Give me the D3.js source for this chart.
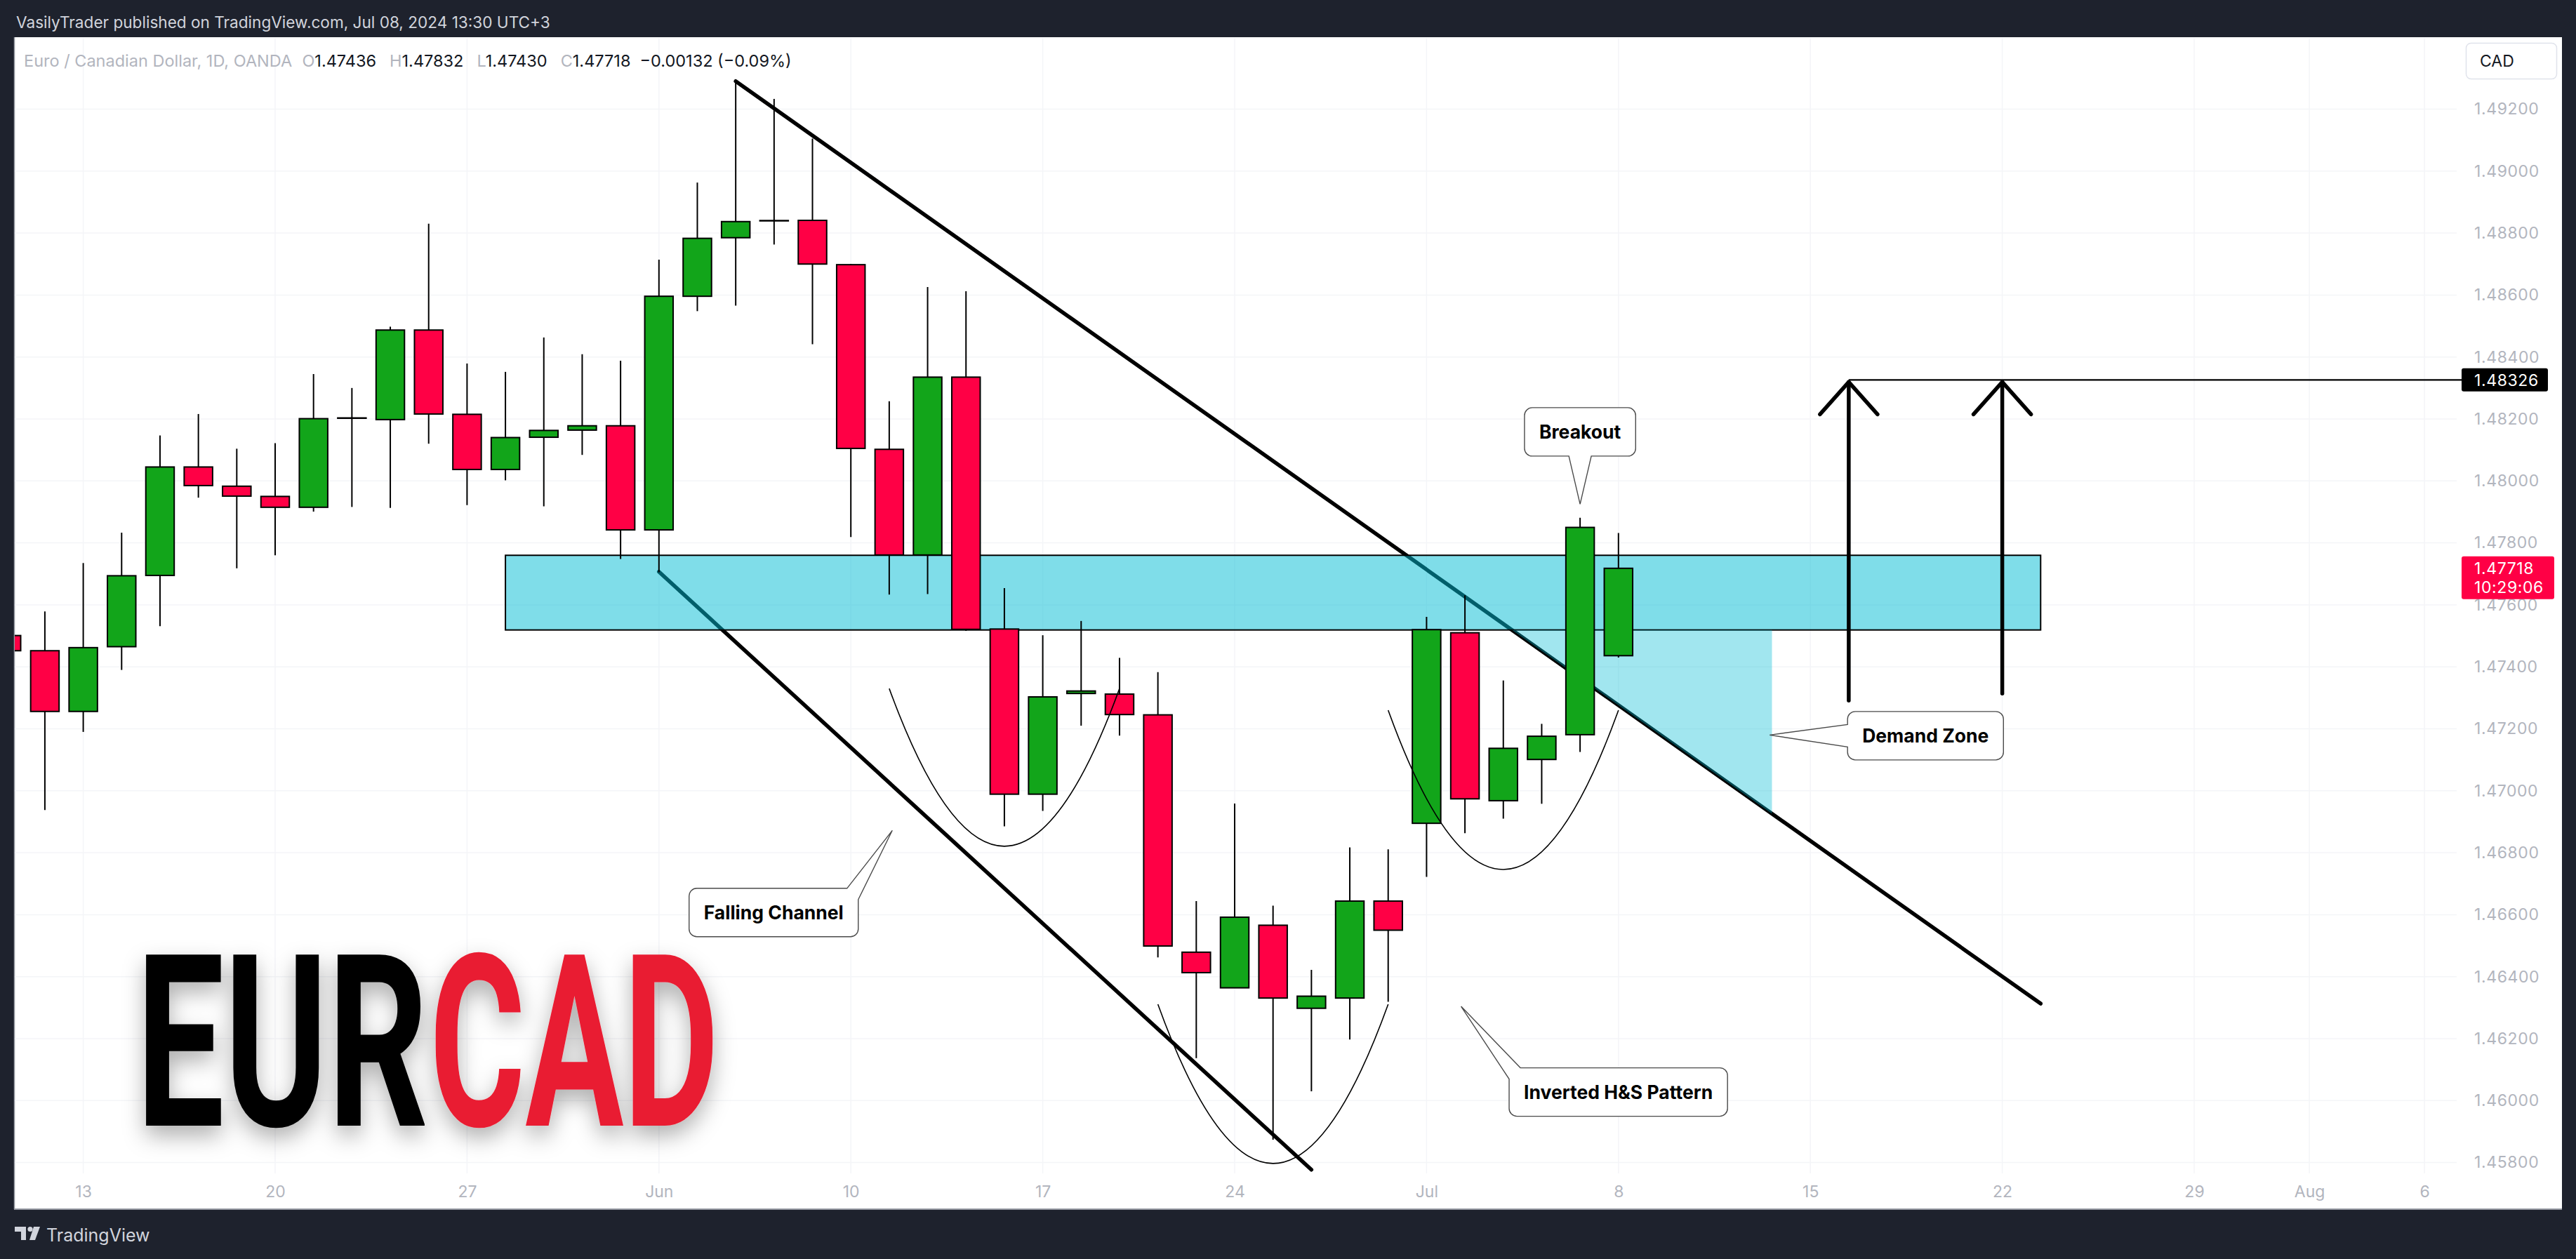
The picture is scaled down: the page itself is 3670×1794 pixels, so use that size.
<!DOCTYPE html>
<html><head><meta charset="utf-8">
<script src="https://cdn.jsdelivr.net/npm/d3@7"></script>
<style>html,body{margin:0;padding:0;background:#1e222d;overflow:hidden}</style>
</head><body>
<svg id="c" width="3670" height="1794" xmlns="http://www.w3.org/2000/svg"></svg>
<script>
// ---------------- DATA ----------------
const dates = ["2024-05-09","2024-05-10","2024-05-13","2024-05-14","2024-05-15","2024-05-16","2024-05-17",
"2024-05-20","2024-05-21","2024-05-22","2024-05-23","2024-05-24","2024-05-27","2024-05-28","2024-05-29","2024-05-30","2024-05-31",
"2024-06-03","2024-06-04","2024-06-05","2024-06-06","2024-06-07","2024-06-10","2024-06-11","2024-06-12","2024-06-13","2024-06-14",
"2024-06-17","2024-06-18","2024-06-19","2024-06-20","2024-06-21","2024-06-24","2024-06-25","2024-06-26","2024-06-27","2024-06-28",
"2024-07-01","2024-07-02","2024-07-03","2024-07-04","2024-07-05","2024-07-08"];
const opens  = [1.47501,1.47452,1.47256,1.47465,1.47695,1.48045,1.47983,1.47950,1.47915,1.48203,1.48198,1.48487,1.48215,1.48037,1.48141,1.48164,1.48178,1.47842,1.48596,1.48785,1.48840,1.48841,1.48698,1.48102,1.47761,1.48335,1.47522,1.46989,1.47314,1.47312,1.47245,1.46479,1.46364,1.46566,1.46298,1.46331,1.46644,1.46895,1.47510,1.46968,1.47101,1.47181,1.47436];
const highs  = [1.47565,1.47579,1.47735,1.47833,1.48147,1.48216,1.48104,1.48122,1.48345,1.48300,1.48498,1.48830,1.48379,1.48352,1.48463,1.48409,1.48388,1.48714,1.48963,1.49290,1.49233,1.49105,1.48700,1.48257,1.48626,1.48612,1.47654,1.47502,1.47548,1.47429,1.47383,1.46644,1.46959,1.46629,1.46422,1.46817,1.46811,1.47561,1.47631,1.47356,1.47216,1.47881,1.47832];
const lows   = [1.47390,1.46938,1.47190,1.47390,1.47531,1.47946,1.47718,1.47760,1.47901,1.47916,1.47913,1.48120,1.47922,1.48002,1.47918,1.48084,1.47748,1.47705,1.48548,1.48566,1.48763,1.48441,1.47819,1.47633,1.47635,1.47516,1.46885,1.46935,1.47210,1.47178,1.46462,1.46137,1.46364,1.45874,1.46030,1.46197,1.46319,1.46722,1.46863,1.46910,1.46958,1.47125,1.47430];
const closes = [1.47452,1.47256,1.47462,1.47694,1.48045,1.47985,1.47951,1.47915,1.48201,1.48203,1.48487,1.48216,1.48037,1.48140,1.48163,1.48178,1.47842,1.48596,1.48783,1.48837,1.48840,1.48700,1.48105,1.47761,1.48335,1.47521,1.46989,1.47303,1.47322,1.47246,1.46499,1.46413,1.46592,1.46331,1.46337,1.46644,1.46550,1.47520,1.46974,1.47137,1.47176,1.47850,1.47718];
const firstBarIndex = -2; // bar index of dates[0]; 0 = 2024-05-13

const priceTicks = [1.458,1.460,1.462,1.464,1.466,1.468,1.470,1.472,1.474,1.476,1.478,1.480,1.482,1.484,1.486,1.488,1.490,1.492];
const dateTickIdx = [0,5,10,15,20,25,30,35,40,45,50,55,58,61];
const dateTickLabels = ["13","20","27","Jun","10","17","24","Jul","8","15","22","29","Aug","6"];

// drawings (bar index, price)
const channelUpper = [[17,1.49290],[51,1.46313]];
const channelLower = [[15,1.47707],[32,1.45777]];
const zoneBox = [[11,1.47760],[51,1.47519]];
const demandRightIdx = 44;
const targetLevel = 1.48326;
const arrowIdx = [46,50];
const arrowBase = [1.47291,1.47314];
const curveStart = [21,28,34];
const curveEnd = [27,34,40];
const curveEndPrice = [1.47330,1.46311,1.47260];
const curveLowPrice = [1.46821,1.45797,1.46746];
const calloutText = ["Breakout","Falling Channel","Inverted H&S Pattern","Demand Zone"];
const calloutIdx = [39,21.08,35.9,43.94];
const calloutPrice = [1.47925,1.46872,1.46304,1.47180];

const lastPrice = 1.47718, countdown = "10:29:06";
const headerTop = "VasilyTrader published on TradingView.com, Jul 08, 2024 13:30 UTC+3";
const symbolInfo = "Euro / Canadian Dollar, 1D, OANDA";
const ohlcLabels = ["O","H","L","C"];
const ohlcValues = ["1.47436","1.47832","1.47430","1.47718"];
const changeText = "\u22120.00132 (\u22120.09%)";
const titleParts = ["EUR","CAD"];

// ---------------- STYLE / LAYOUT ----------------
const W=3670,H=1794;
const UP="#12a51a", DOWN="#ff0045", ZONE="rgb(0,188,212)";
const svg = d3.select("#c");
const x = d3.scaleLinear().domain([0,40]).range([118.6,2305.8]);
const y = d3.scaleLinear().domain([1.458,1.492]).range([1656.6,155.5]);
const FONT = "Inter, 'Noto Sans', Roboto, sans-serif";

const defs = svg.append("defs");
defs.append("clipPath").attr("id","plot").append("rect").attr("x",21).attr("y",54).attr("width",3480).attr("height",1620);
const f = defs.append("filter").attr("id","shadow").attr("x","-20%").attr("y","-30%").attr("width","140%").attr("height","170%");
f.append("feDropShadow").attr("dx",0).attr("dy",14).attr("stdDeviation",16).attr("flood-color","#000").attr("flood-opacity",0.32);

// frame
svg.append("rect").attr("width",W).attr("height",H).attr("fill","#1e222d");
svg.append("rect").attr("x",20).attr("y",53).attr("width",3630).attr("height",1670).attr("fill","#ffffff");
svg.append("line").attr("x1",20).attr("x2",3650).attr("y1",1723).attr("y2",1723).attr("stroke","#9598a1").attr("stroke-width",2);
svg.append("line").attr("x1",20.5).attr("x2",20.5).attr("y1",53).attr("y2",1723).attr("stroke","#9598a1").attr("stroke-width",1.5);

// faint grid
const grid = svg.append("g").attr("clip-path","url(#plot)");
grid.selectAll("line.h").data(priceTicks).join("line").attr("x1",20).attr("x2",3500)
  .attr("y1",d=>y(d)).attr("y2",d=>y(d)).attr("stroke","#f4f5f8").attr("stroke-width",1.5);
grid.selectAll("line.v").data(dateTickIdx).join("line").attr("y1",54).attr("y2",1672)
  .attr("x1",d=>x(d)).attr("x2",d=>x(d)).attr("stroke","#f4f5f8").attr("stroke-width",1.5);

const plot = svg.append("g").attr("clip-path","url(#plot)");

// channel lines
const lineGen = d3.line().x(d=>x(d[0])).y(d=>y(d[1]));
[channelUpper, channelLower].forEach(l=>{
  plot.append("path").attr("d",lineGen(l)).attr("fill","none").attr("stroke","#000")
    .attr("stroke-width",5.5).attr("stroke-linecap","round");
});

// zone box
plot.append("rect").attr("x",x(zoneBox[0][0])).attr("y",y(zoneBox[0][1]))
  .attr("width",x(zoneBox[1][0])-x(zoneBox[0][0])).attr("height",y(zoneBox[1][1])-y(zoneBox[0][1]))
  .attr("fill",ZONE).attr("fill-opacity",0.5).attr("stroke","#000").attr("stroke-width",2);

// demand triangle (bounded by zone bottom, vertical at demandRightIdx, and upper channel line)
(function(){
  const [a,b]=channelUpper;
  const priceAt = i => a[1]+(b[1]-a[1])*(i-a[0])/(b[0]-a[0]);
  const idxAt = p => a[0]+(p-a[1])*(b[0]-a[0])/(b[1]-a[1]);
  const pTop = zoneBox[1][1];
  const pts = [[idxAt(pTop),pTop],[demandRightIdx,pTop],[demandRightIdx,priceAt(demandRightIdx)]];
  plot.append("path").attr("d",d3.line().x(d=>x(d[0])).y(d=>y(d[1]))(pts)+"Z")
    .attr("fill",ZONE).attr("fill-opacity",0.37);
})();

// candles
const candles = plot.append("g");
const bw = 40.5;
dates.forEach((dt,k)=>{
  const i = k+firstBarIndex, xc = x(i);
  const o=opens[k], c=closes[k], h=highs[k], l=lows[k];
  candles.append("line").attr("x1",xc).attr("x2",xc).attr("y1",y(h)).attr("y2",y(l))
    .attr("stroke","#000").attr("stroke-width",2);
  const top=y(Math.max(o,c)), bot=y(Math.min(o,c));
  if (bot-top < 1) {
    candles.append("line").attr("x1",xc-bw/2-1).attr("x2",xc+bw/2+1).attr("y1",y(o)).attr("y2",y(o))
      .attr("stroke","#000").attr("stroke-width",2.5);
  } else {
    candles.append("rect").attr("x",xc-bw/2).attr("y",top).attr("width",bw).attr("height",bot-top)
      .attr("fill", c>o?UP:DOWN).attr("stroke","#000").attr("stroke-width",2);
  }
});

// H&S curves (quadratic, symmetric)
curveStart.forEach((s,j)=>{
  const e=curveEnd[j], m=(s+e)/2;
  const ctrlP = curveEndPrice[j] + 2*(curveLowPrice[j]-curveEndPrice[j]);
  plot.append("path")
    .attr("d",`M${x(s)},${y(curveEndPrice[j])} Q${x(m)},${y(ctrlP)} ${x(e)},${y(curveEndPrice[j])}`)
    .attr("fill","none").attr("stroke","#000").attr("stroke-width",1.6);
});

// target line + arrows
svg.append("line").attr("x1",x(arrowIdx[0])).attr("x2",3508).attr("y1",y(targetLevel)).attr("y2",y(targetLevel))
  .attr("stroke","#000").attr("stroke-width",2.2);
arrowIdx.forEach((ai,j)=>{
  const ax=x(ai), ty=y(targetLevel)+3;
  plot.append("line").attr("x1",ax).attr("x2",ax).attr("y1",ty).attr("y2",y(arrowBase[j]))
    .attr("stroke","#000").attr("stroke-width",5.5).attr("stroke-linecap","round");
  plot.append("path").attr("d",`M${ax-41},${ty+46} L${ax},${ty} L${ax+41},${ty+46}`)
    .attr("fill","none").attr("stroke","#000").attr("stroke-width",5.5).attr("stroke-linecap","round").attr("stroke-linejoin","round");
});

// callouts
const calloutLayout = [
  {dx:0, dy:-103, side:"bottom"},
  {dx:-169, dy:117, side:"topright"},
  {dx:224, dy:122, side:"topleft"},
  {dx:222, dy:1, side:"left"}
];
calloutText.forEach((t,j)=>{
  const L=calloutLayout[j];
  const tx=x(calloutIdx[j]), ty=y(calloutPrice[j]);
  const cx=tx+L.dx, cy=ty+L.dy;
  const g=svg.append("g");
  const txt=g.append("text").attr("x",cx).attr("y",cy).attr("dy","0.36em").attr("text-anchor","middle")
    .attr("font-family",FONT).attr("font-weight",700).attr("font-size",26.5).attr("fill","#000").text(t);
  const tw=txt.node().getComputedTextLength();
  const w=tw+42, h=69, x0=cx-w/2, x1=cx+w/2, y0=cy-h/2, y1=cy+h/2, r=11, k=16;
  let p;
  if (L.side==="bottom") {
    p=`M${x0+r},${y0} H${x1-r} A${r},${r} 0 0 1 ${x1},${y0+r} V${y1-r} A${r},${r} 0 0 1 ${x1-r},${y1} H${tx+k} L${tx},${ty} L${tx-k},${y1} H${x0+r} A${r},${r} 0 0 1 ${x0},${y1-r} V${y0+r} A${r},${r} 0 0 1 ${x0+r},${y0} Z`;
  } else if (L.side==="left") {
    p=`M${x0+r},${y0} H${x1-r} A${r},${r} 0 0 1 ${x1},${y0+r} V${y1-r} A${r},${r} 0 0 1 ${x1-r},${y1} H${x0+r} A${r},${r} 0 0 1 ${x0},${y1-r} V${cy+k} L${tx},${ty} L${x0},${cy-k} V${y0+r} A${r},${r} 0 0 1 ${x0+r},${y0} Z`;
  } else if (L.side==="topright") {
    p=`M${x0+r},${y0} H${x1-k} L${tx},${ty} L${x1},${y0+k} V${y1-r} A${r},${r} 0 0 1 ${x1-r},${y1} H${x0+r} A${r},${r} 0 0 1 ${x0},${y1-r} V${y0+r} A${r},${r} 0 0 1 ${x0+r},${y0} Z`;
  } else {
    p=`M${x0+k},${y0} H${x1-r} A${r},${r} 0 0 1 ${x1},${y0+r} V${y1-r} A${r},${r} 0 0 1 ${x1-r},${y1} H${x0+r} A${r},${r} 0 0 1 ${x0},${y1-r} V${y0+k} L${tx},${ty} Z`;
  }
  g.insert("path","text").attr("d",p).attr("fill","#fff").attr("stroke","#4a4a4a").attr("stroke-width",1.4);
});

// EURCAD big title (two separate texts, condensed with a horizontal scale)
const titleG = svg.append("g").attr("filter","url(#shadow)");
const titleX = [194, 612], titleLen = [416, 412], titleFill = ["#000","#e91c30"];
titleParts.forEach((t,j)=>{
  const tt = titleG.append("text").attr("x",0).attr("y",0).attr("font-family","Roboto, 'Liberation Sans', sans-serif")
    .attr("font-weight",700).attr("font-size",343).attr("fill",titleFill[j]).text(t);
  const nat = tt.node().getComputedTextLength();
  tt.attr("transform",`translate(${titleX[j]},1604) scale(${titleLen[j]/nat},1)`);
});

// price axis
const yAxis = d3.axisRight(y).tickValues(priceTicks).tickFormat(d3.format(".5f")).tickSize(0).tickPadding(0);
const ya = svg.append("g").attr("transform","translate(3525,0)").call(yAxis);
ya.select(".domain").remove();
ya.selectAll("text").attr("font-family",FONT).attr("font-size",23).attr("fill","#b2b5be").attr("letter-spacing","0.6px");

// date axis
const xAxis = d3.axisBottom(x).tickValues(dateTickIdx).tickFormat((d,j)=>dateTickLabels[j]).tickSize(0).tickPadding(0);
const xa = svg.append("g").attr("transform","translate(0,1698)").call(xAxis);
xa.select(".domain").remove();
xa.selectAll("text").attr("y",0).attr("dy","0.36em").attr("font-family",FONT).attr("font-size",23).attr("fill","#b2b5be");

// price labels
svg.append("rect").attr("x",3507).attr("y",y(targetLevel)-16.5).attr("width",123).attr("height",33).attr("rx",3).attr("fill","#000");
svg.append("text").attr("x",3525).attr("y",y(targetLevel)).attr("dy","0.36em").attr("font-family",FONT).attr("font-size",23)
  .attr("fill","#fff").attr("letter-spacing","0.6px").text(d3.format(".5f")(targetLevel));
svg.append("rect").attr("x",3507).attr("y",y(lastPrice)-17).attr("width",132).attr("height",61).attr("rx",3).attr("fill",DOWN);
svg.append("text").attr("x",3525).attr("y",y(lastPrice)).attr("dy","0.36em").attr("font-family",FONT).attr("font-size",23)
  .attr("fill","#fff").attr("letter-spacing","0.6px").text(d3.format(".5f")(lastPrice));
svg.append("text").attr("x",3525).attr("y",y(lastPrice)+27).attr("dy","0.36em").attr("font-family",FONT).attr("font-size",23)
  .attr("fill","#fff").attr("letter-spacing","0.6px").text(countdown);

// currency button
svg.append("rect").attr("x",3513.5).attr("y",61.5).attr("width",129).attr("height",51).attr("rx",7)
  .attr("fill","#fff").attr("stroke","#e0e3eb").attr("stroke-width",1.5);
svg.append("text").attr("x",3533).attr("y",87).attr("dy","0.36em").attr("font-family",FONT).attr("font-size",23)
  .attr("fill","#131722").text("CAD");

// header
svg.append("text").attr("x",23).attr("y",32).attr("dy","0.36em").attr("font-family",FONT).attr("font-size",22.6)
  .attr("fill","#d1d4dc").text(headerTop);
const hdr = svg.append("text").attr("x",34).attr("y",87).attr("dy","0.36em").attr("font-family",FONT).attr("font-size",23.5);
hdr.append("tspan").attr("fill","#b2b5be").text(symbolInfo);
ohlcLabels.forEach((l,j)=>{
  hdr.append("tspan").attr("dx", j===0?15:19).attr("fill","#b2b5be").text(l);
  hdr.append("tspan").attr("fill","#131722").text(ohlcValues[j]);
});
hdr.append("tspan").attr("dx",13).attr("fill","#131722").text(changeText);

// TradingView footer logo
const logo = svg.append("g").attr("fill","#d1d4dc");
logo.append("path").attr("d","M21,1748 H37 V1767 H30 V1755 H21 Z");
logo.append("circle").attr("cx",43).attr("cy",1751.5).attr("r",3.6);
logo.append("path").attr("d","M48,1748 H57 L50,1767 H42 Z");
svg.append("text").attr("x",66).attr("y",1760).attr("dy","0.36em").attr("font-family",FONT).attr("font-size",25)
  .attr("fill","#d1d4dc").text("TradingView");
</script>
</body></html>
